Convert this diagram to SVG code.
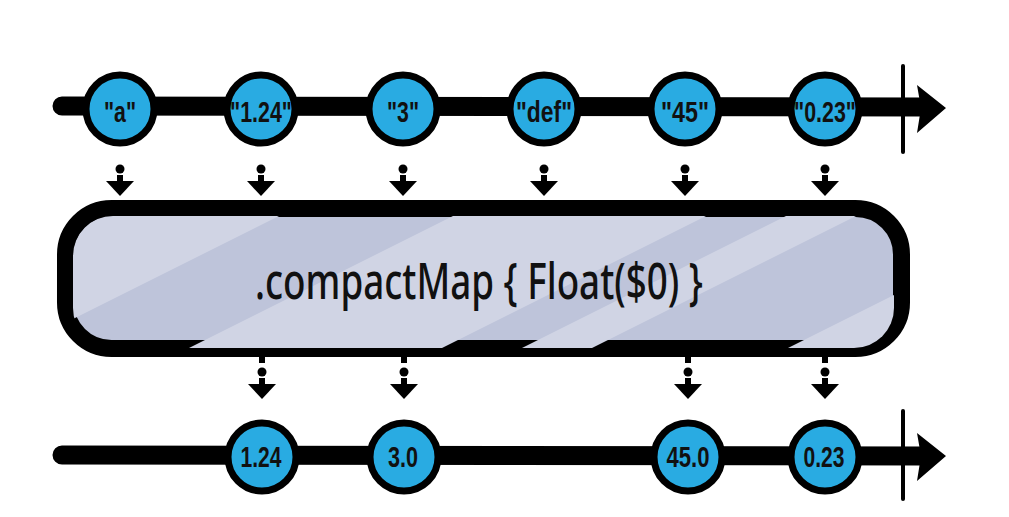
<svg xmlns="http://www.w3.org/2000/svg" width="1009" height="517" viewBox="0 0 1009 517">
<style>
.line{stroke:#000;stroke-width:19;stroke-linecap:round;fill:none}
.tick{stroke:#000;stroke-width:4;stroke-linecap:round}
.head{fill:#000}
.node circle{fill:#29abe2;stroke:#000;stroke-width:7}
.node text{font-family:"Liberation Sans",Arial,sans-serif;font-size:29px;font-weight:bold;fill:#111;text-anchor:middle}
.op text{font-family:"Noto Sans","DejaVu Sans",sans-serif;font-size:50px;font-weight:500;fill:#111}
.band{fill:#d0d4e4}
.hl{fill:none;stroke:#cbd0e2;stroke-width:3}
</style>
<defs>
<clipPath id="boxclip"><rect x="73" y="216" width="821" height="132" rx="40"/></clipPath>
<g id="darr">
<circle cx="0" cy="0" r="4.5"/>
<rect x="-3" y="6" width="6" height="8"/>
<path d="M-14 12 L14 12 L0 27 Z"/>
</g>
</defs>

<g id="connectors">
<path class="line" d="M62 106 L925 107"/>
<path class="head" d="M917 85 L946 108 L917 133 L921 108 Z"/>
<line class="tick" x1="903" y1="66" x2="903" y2="152"/>
<path class="line" d="M62 455 L925 456"/>
<path class="head" d="M917 433 L946 456 L917 481 L921 456 Z"/>
<line class="tick" x1="903" y1="411" x2="903" y2="499"/>
<use href="#darr" x="120" y="169"/>
<use href="#darr" x="261" y="169"/>
<use href="#darr" x="403" y="169"/>
<use href="#darr" x="544" y="169"/>
<use href="#darr" x="685" y="169"/>
<use href="#darr" x="825" y="169"/>
<g>
<rect x="259" y="355" width="6" height="8"/>
<rect x="401" y="355" width="6" height="8"/>
<rect x="685" y="355" width="6" height="8"/>
<rect x="822" y="355" width="6" height="8"/>
</g>
<use href="#darr" x="262" y="372"/>
<use href="#darr" x="404" y="372"/>
<use href="#darr" x="688" y="372"/>
<use href="#darr" x="825" y="372"/>
</g>

<g id="operator" class="op">
<rect x="65.5" y="208.5" width="836" height="140" rx="46" fill="#bec4da" stroke="#000" stroke-width="17"/>
<g clip-path="url(#boxclip)">
<polygon class="band" points="60,210 291,210 11,350 60,350"/>
<polygon class="band" points="465,210 718,210 438,350 185,350"/>
<polygon class="band" points="798,210 868,210 588,350 518,350"/>
<polygon class="band" points="1064,210 1000,210 1000,350 784,350"/>
</g>
<text x="255" y="299" textLength="448" lengthAdjust="spacingAndGlyphs">.compactMap { Float($0) }</text>
</g>

<g id="in-a" class="node"><circle cx="120" cy="109" r="34"/><text x="120" y="122" textLength="32" lengthAdjust="spacingAndGlyphs">"a"</text></g>
<g id="in-124" class="node"><circle cx="261" cy="109" r="34"/><text x="261" y="122" textLength="62" lengthAdjust="spacingAndGlyphs">"1.24"</text></g>
<g id="in-3" class="node"><circle cx="403" cy="109" r="34"/><text x="403" y="122" textLength="32" lengthAdjust="spacingAndGlyphs">"3"</text></g>
<g id="in-def" class="node"><circle cx="544" cy="109" r="34"/><text x="544" y="122" textLength="56" lengthAdjust="spacingAndGlyphs">"def"</text></g>
<g id="in-45" class="node"><circle cx="685" cy="109" r="34"/><text x="685" y="122" textLength="48" lengthAdjust="spacingAndGlyphs">"45"</text></g>
<g id="in-023" class="node"><circle cx="825" cy="109" r="34"/><text x="825" y="122" textLength="62" lengthAdjust="spacingAndGlyphs">"0.23"</text></g>

<g id="out-124" class="node"><circle cx="262" cy="457" r="34"/><text x="261" y="467" textLength="41" lengthAdjust="spacingAndGlyphs">1.24</text></g>
<g id="out-30" class="node"><circle cx="404" cy="457" r="34"/><text x="403" y="467" textLength="30" lengthAdjust="spacingAndGlyphs">3.0</text></g>
<g id="out-450" class="node"><circle cx="688" cy="457" r="34"/><text x="688" y="467" textLength="43" lengthAdjust="spacingAndGlyphs">45.0</text></g>
<g id="out-023" class="node"><circle cx="825" cy="457" r="34"/><text x="824" y="467" textLength="41" lengthAdjust="spacingAndGlyphs">0.23</text></g>
</svg>
